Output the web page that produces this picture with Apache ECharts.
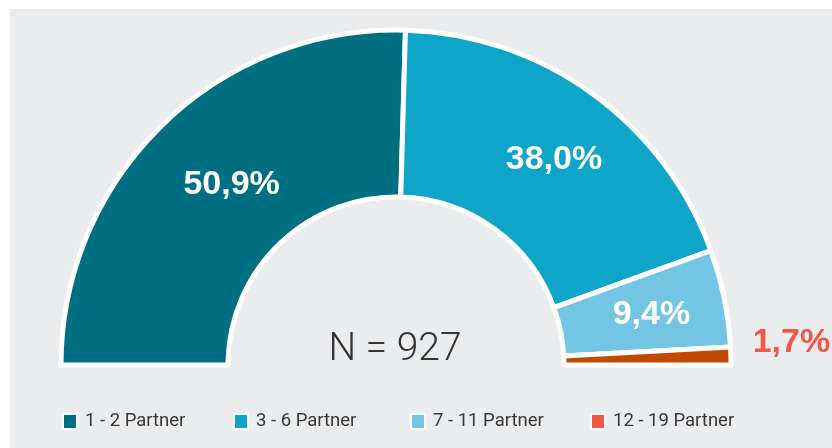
<!DOCTYPE html>
<html>
<head>
<meta charset="utf-8">
<script src="https://cdn.jsdelivr.net/npm/echarts@6/dist/echarts.min.js"></script>
<style>
html,body{margin:0;padding:0;background:#ffffff;}
#chart{width:832px;height:448px;}
</style>
</head>
<body>
<div id="chart"></div>
<script>
const categories = ['1 - 2 Partner', '3 - 6 Partner', '7 - 11 Partner', '12 - 19 Partner'];
const values = [50.9, 38.0, 9.4, 1.7];
const sliceColors = ['#006f82', '#0ea5c9', '#74c4e3', '#c04b00'];
const legendColors = ['#006f82', '#0ea5c9', '#74c4e3', '#ef5a46'];
const totalLabel = 'N = 927';

const fmt = v => v.toFixed(1).replace('.', ',') + '%';

const chart = echarts.init(document.getElementById('chart'), null, {renderer: 'canvas'});

const legendLefts = [62, 233, 410, 590];
const labelOffsets = [[13, 2], [9, 1], [6, 0], [141, -16]];

const option = {
  backgroundColor: '#ffffff',
  animation: false,
  graphic: [
    {type: 'rect', left: 10, top: 9, z: -10, silent: true,
     shape: {width: 822, height: 439}, style: {fill: '#ebecee'}},
    {type: 'text', x: 395, y: 350, z: 10, silent: true,
     style: {text: totalLabel, fill: '#333333', font: '300 39px Roboto, "Noto Sans", sans-serif',
             align: 'center', verticalAlign: 'middle'}}
  ],
  legend: categories.map((c, i) => ({
    data: [{name: c, itemStyle: {color: legendColors[i]}}],
    left: legendLefts[i],
    top: 412,
    itemWidth: 14,
    itemHeight: 15,
    itemGap: 0,
    icon: 'rect',
    padding: 0,
    textStyle: {color: '#383838', fontSize: 18.5, fontFamily: 'Roboto, "Noto Sans", sans-serif', padding: [2, 0, 0, 3]}
  })),
  series: [{
    type: 'pie',
    center: [396, 365],
    radius: [168, 335],
    startAngle: 180,
    endAngle: 0,
    clockwise: true,
    avoidLabelOverlap: false,
    itemStyle: {borderColor: '#ffffff', borderWidth: 5},
    label: {
      show: true,
      position: 'inside',
      formatter: p => fmt(p.value),
      color: '#ffffff',
      fontSize: 34,
      fontWeight: 'bold',
      fontFamily: '"Liberation Sans", Arial, sans-serif'
    },
    labelLine: {show: false},
    emphasis: {disabled: true},
    data: categories.map((c, i) => {
      const d = {name: c, value: values[i], itemStyle: {color: sliceColors[i]},
                 label: {offset: labelOffsets[i]}};
      if (i === 3) {
        d.label.color = '#ef5a46';
      }
      return d;
    })
  }]
};
chart.setOption(option);
</script>
</body>
</html>
